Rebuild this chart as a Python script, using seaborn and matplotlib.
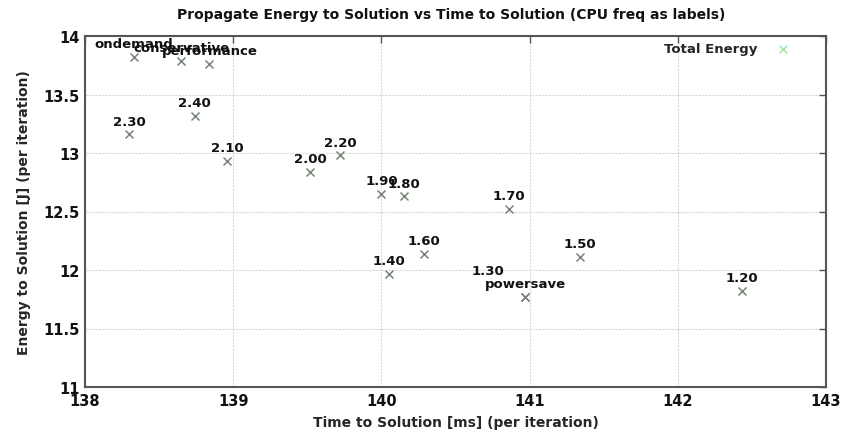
import numpy as np
import pandas as pd
import matplotlib
matplotlib.use("Agg")
import matplotlib.pyplot as plt
import seaborn as sns
from matplotlib.ticker import FuncFormatter

# governor / cpu freq labels with time [ms] and energy [J] per iteration
labels = ["ondemand", "conservative", "performance", "2.30", "2.40", "2.10",
          "2.00", "2.20", "1.90", "1.80", "1.70", "1.60", "1.40", "1.50",
          "1.30", "powersave", "1.20"]
time_ms = [138.33, 138.65, 138.84, 138.30, 138.74, 138.96,
           139.52, 139.72, 140.00, 140.15, 140.86, 140.29, 140.05, 141.34,
           140.97, 140.97, 142.43]
energy_j = [13.82, 13.79, 13.76, 13.16, 13.32, 12.93,
            12.84, 12.98, 12.65, 12.63, 12.52, 12.14, 11.97, 12.11,
            11.77, 11.77, 11.82]

df = pd.DataFrame({"time": time_ms, "energy": energy_j, "label": labels})

sns.set_style("white")
plt.rcParams["font.family"] = ["DejaVu Sans"]
plt.rcParams["font.weight"] = "bold"

fig = plt.figure(figsize=(8.43, 4.35), dpi=100)
ax = fig.add_axes([85/843, 1-388/435, (826-85)/843, (388-37)/435])

sns.scatterplot(data=df, x="time", y="energy", marker="x", color="#9be39b",
                s=32, linewidth=1.0, label="Total Energy", ax=ax, zorder=3)
sns.scatterplot(data=df, x="time", y="energy", marker="x", color="#808080",
                s=32, linewidth=1.0, ax=ax, zorder=4, legend=False)

for t, e, lab in zip(df["time"], df["energy"], df["label"]):
    off = (0, 9.5)
    if lab == "1.30":
        off = (-26.5, 18.7)
    ax.annotate(lab, (t, e), xytext=off, textcoords="offset points",
                ha="center", va="center", fontsize=9.5, fontweight="bold",
                color="#111111", zorder=5)

ax.set_xlim(138, 143)
ax.set_ylim(11, 14)
ax.set_xticks(np.arange(138, 143.1, 1))
ax.set_yticks(np.arange(11, 14.01, 0.5))
ax.yaxis.set_major_formatter(FuncFormatter(lambda v, p: "%g" % v))
ax.grid(True, color="#d8d8d8", linewidth=0.8, linestyle=(0, (2, 1)))
ax.tick_params(direction="in", length=5, width=1, top=True, right=True,
               labelsize=10.5, colors="#555555", labelcolor="#111111", pad=4)
for sp in ax.spines.values():
    sp.set_color("#555555")
    sp.set_linewidth(1.5)

ax.set_xlabel("Time to Solution [ms] (per iteration)", fontsize=10,
              fontweight="bold", labelpad=5)
ax.set_ylabel("Energy to Solution [J] (per iteration)", fontsize=10,
              fontweight="bold", labelpad=9)
fig.text(451/843, 1-15/435,
         "Propagate Energy to Solution vs Time to Solution (CPU freq as labels)",
         ha="center", va="center", fontsize=10, fontweight="bold",
         color="#111111")

ax.legend(loc="upper right", bbox_to_anchor=(1 - 21/741, 1 + 3/351),
          frameon=False, markerfirst=False, borderaxespad=0.3,
          handletextpad=0.9, prop={"weight": "bold", "size": 9.5})

fig.savefig("out.png", dpi=100)
